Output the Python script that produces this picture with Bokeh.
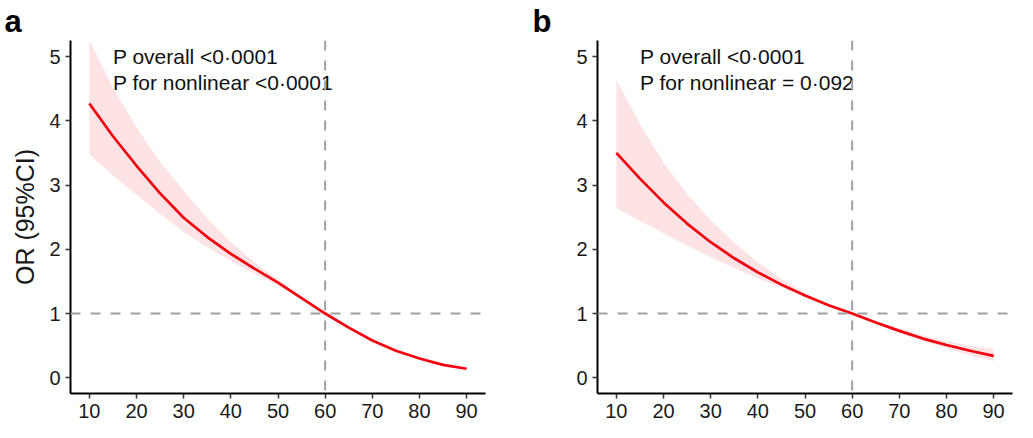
from bokeh.plotting import figure
from bokeh.layouts import row
from bokeh.models import Span, Range1d, FixedTicker, Title
from bokeh.core.properties import value
from bokeh.embed import file_html
from bokeh.resources import INLINE

# ---- data ----
age = [10, 15, 20, 25, 30, 35, 40, 45, 50, 55, 60, 65, 70, 75, 80, 85, 90]

or_a = [4.27, 3.76, 3.30, 2.87, 2.49, 2.19, 1.93, 1.70, 1.48, 1.24, 1.00,
        0.78, 0.58, 0.42, 0.30, 0.20, 0.14]
upper_a = [5.25, 4.52, 3.90, 3.36, 2.91, 2.48, 2.11, 1.80, 1.53, 1.26, 1.00,
           0.79, 0.59, 0.43, 0.31, 0.21, 0.15]
lower_a = [3.48, 3.15, 2.85, 2.55, 2.27, 2.03, 1.82, 1.62, 1.44, 1.22, 1.00,
           0.77, 0.57, 0.41, 0.29, 0.19, 0.13]

or_b = [3.50, 3.10, 2.73, 2.40, 2.11, 1.86, 1.64, 1.45, 1.28, 1.13, 1.00,
        0.86, 0.73, 0.61, 0.51, 0.42, 0.34]
upper_b = [4.64, 3.95, 3.35, 2.86, 2.45, 2.10, 1.80, 1.54, 1.32, 1.15, 1.00,
           0.88, 0.77, 0.66, 0.57, 0.50, 0.45]
lower_b = [2.64, 2.44, 2.25, 2.06, 1.88, 1.71, 1.55, 1.40, 1.27, 1.13, 1.00,
           0.84, 0.70, 0.57, 0.46, 0.35, 0.26]

x_ticks = [10, 20, 30, 40, 50, 60, 70, 80, 90]
y_ticks = [0, 1, 2, 3, 4, 5]
ref_x = 60
ref_y = 1

text_a = ["P overall <0\u00b70001", "P for nonlinear <0\u00b70001"]
text_b = ["P overall <0\u00b70001", "P for nonlinear = 0\u00b7092"]
text_x = [15, 15]
text_y = [5.0, 4.6]

FONT = "Liberation Sans"


def make_panel(tag, y_mid, y_up, y_lo, texts, width, left, right, ylabel, tag_offset):
    p = figure(width=width, height=430, output_backend="svg", toolbar_location=None,
               x_range=Range1d(6, 94), y_range=Range1d(-0.245, 5.25),
               min_border_left=left, min_border_right=right,
               min_border_top=40, min_border_bottom=37)
    p.title = Title(text=tag, text_font=FONT, text_font_size="31px",
                    text_font_style="bold", text_color="black",
                    align="left", offset=tag_offset, standoff=3)
    p.outline_line_color = None
    p.grid.visible = False
    p.background_fill_color = "white"
    p.border_fill_color = "white"

    p.varea(x=age, y1=y_lo, y2=y_up, fill_color="#FDE3E4", fill_alpha=1.0)
    p.line(x=age, y=y_mid, line_color="#F5000F", line_width=2.7)

    p.add_layout(Span(location=ref_x, dimension="height", line_color="#A0A0A0",
                      line_width=2, line_dash="10 10"))
    p.add_layout(Span(location=ref_y, dimension="width", line_color="#A0A0A0",
                      line_width=2, line_dash="10 10"))

    p.text(x=text_x, y=text_y, text=texts, text_font=value(FONT),
           text_font_size="21px", text_color="#111111",
           text_baseline="middle", text_align="left")

    for ax in (p.xaxis[0], p.yaxis[0]):
        ax.axis_line_color = "black"
        ax.axis_line_width = 2
        ax.major_tick_line_color = "#333333"
        ax.major_tick_line_width = 1.5
        ax.major_tick_out = 5
        ax.major_tick_in = 0
        ax.minor_tick_line_color = None
        ax.major_label_text_font = FONT
        ax.major_label_text_font_size = "20px"
        ax.major_label_text_color = "#1a1a1a"
        ax.major_label_standoff = 5
    p.xaxis[0].ticker = FixedTicker(ticks=x_ticks)
    p.yaxis[0].ticker = FixedTicker(ticks=y_ticks)

    if ylabel:
        p.yaxis[0].axis_label = ylabel
        p.yaxis[0].axis_label_text_font = FONT
        p.yaxis[0].axis_label_text_font_size = "25px"
        p.yaxis[0].axis_label_text_font_style = "normal"
        p.yaxis[0].axis_label_text_color = "#1a1a1a"
        p.yaxis[0].axis_label_standoff = 7
    return p


pa = make_panel("a", or_a, upper_a, lower_a, text_a, 513, 70, 28, "OR (95%CI)", -66)
pb = make_panel("b", or_b, upper_b, lower_b, text_b, 509, 84, 10, None, -65)

layout = row(pa, pb)
open("out.html", "w").write(file_html(layout, INLINE))
